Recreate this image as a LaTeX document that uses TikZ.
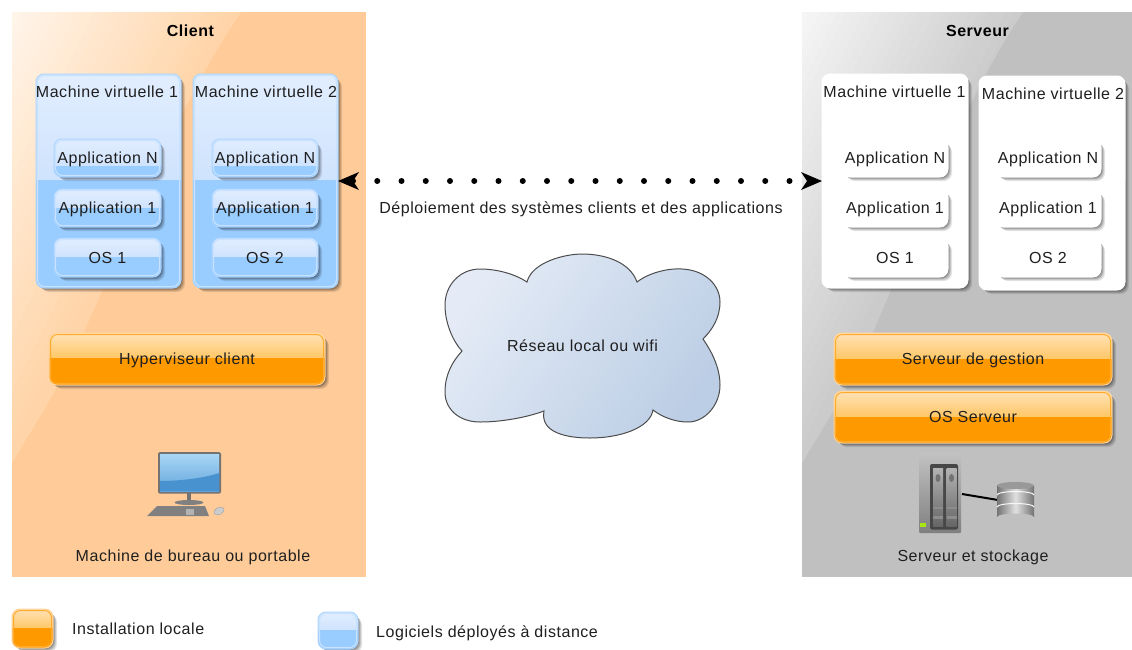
\documentclass[tikz,border=0pt]{standalone}
\usepackage{fontspec}
\setmainfont[LetterSpace=3.4]{Liberation Sans}
\usetikzlibrary{arrows.meta}
\definecolor{blueTopA}{HTML}{E2EEFF}\definecolor{blueTopB}{HTML}{CFE3FD}\definecolor{blueBot}{HTML}{99CCFF}\definecolor{blueEdge}{HTML}{C9E2FF}\definecolor{blueGlow}{HTML}{ABD5FF}
\definecolor{orTopA}{HTML}{FFE2B8}\definecolor{orTopB}{HTML}{FFC766}\definecolor{orBot}{HTML}{FF9900}\definecolor{orEdge}{HTML}{FFAB2E}\definecolor{orGlow}{HTML}{FFD49A}
\definecolor{whTopA}{HTML}{FFFFFF}\definecolor{whTopB}{HTML}{FFFFFF}\definecolor{whBot}{HTML}{FFFFFF}\definecolor{whEdge}{HTML}{FFFFFF}\definecolor{whGlow}{HTML}{FFFFFF}
\definecolor{panelClient}{HTML}{FFCC99}\definecolor{panelServer}{HTML}{C0C0C0}
\definecolor{clientHi}{HTML}{FFF6EC}\definecolor{clientLo}{HTML}{FFD4A8}
\definecolor{serverHi}{HTML}{F7F7F7}\definecolor{serverLo}{HTML}{CBCBCB}
\definecolor{cloudA}{RGB}{228,235,246}\definecolor{cloudB}{RGB}{188,206,229}
\definecolor{scrA}{RGB}{168,214,245}\definecolor{scrB}{RGB}{100,165,220}\definecolor{scrC}{RGB}{72,146,208}
\definecolor{ledG}{RGB}{170,230,20}
\tikzset{
  lab/.style={inner sep=0pt,font=\fontsize{16}{18}\selectfont,text=black!88,text height=14pt,text depth=3pt},
  labbold/.style={inner sep=0pt,font=\fontsize{16}{18}\selectfont\bfseries,text=black,text height=14pt,text depth=3pt},
  holder/.style={inner sep=0pt,outer sep=0pt,rectangle},
  dotline/.style={line width=6pt,line cap=round,dash pattern=on 0pt off 24.25pt,
    {Stealth[length=21pt,width=18pt,inset=6pt,line width=0pt]}-{Stealth[length=21pt,width=18pt,inset=6pt,line width=0pt]}},
}
% name, x1,y1,x2,y2, split, palette, label
\newcommand{\glassbox}[8]{%
  \foreach \s/\o in {5/.10,4/.12,3/.16,2/.18}{%
    \fill[black,opacity=\o,rounded corners=8pt] (#2+\s,#3+\s) rectangle (#4+\s-1,#5+\s-1);}
  \begin{scope}
    \clip[rounded corners=8pt] (#2,#3) rectangle (#4,#5);
    \shade[top color=#7TopA,bottom color=#7TopB] (#2,#3) rectangle (#4,#6);
    \fill[#7Bot] (#2,#6) rectangle (#4,#5);
  \end{scope}
  \draw[#7Edge,line width=1pt,rounded corners=7pt] (#2+1.5,#3+1.5) rectangle (#4-1.5,#5-1.5);
  \draw[#7Glow,line width=1pt,rounded corners=8pt] (#2,#3) rectangle (#4,#5);
  \pgfmathsetmacro{\bw}{#4-#2}\pgfmathsetmacro{\bh}{#5-#3}
  \node[holder,lab,minimum width=\bw pt,minimum height=\bh pt] (#1) at ({(#2+#4)/2},{(#3+#5)/2}) {#8};
}
\newcommand{\panelbox}[7]{% name x1 x2 base lo hi topx
  \fill[#4] (#2,12) rectangle (#3,577);
  \begin{scope}
    \clip (#2,12) -- (#7,12) .. controls (#7-80,130) and (#2+98,290) .. (#2+38,400) -- (#2,463) -- cycle;
    \fill[#5] (#2,12) rectangle (#7+5,463);
    \foreach \t in {100,96,...,0}{%
      \pgfmathsetmacro{\px}{#2+(#7-#2)/100*\t}\pgfmathsetmacro{\py}{12+4.51*\t}\pgfmathsetmacro{\mx}{100-\t}%
      \fill[#6!\mx!#5] (#2,12) -- (\px,12) -- (#2,\py) -- cycle;}
  \end{scope}
  \node[holder,minimum width=1pt,minimum height=1pt] (#1) at ({(#2+#3)/2},294) {};
}
\begin{document}
\begin{tikzpicture}[x=1pt,y=-1pt]
\useasboundingbox (0,0) rectangle (1132,649);
\fill[white] (0,0) rectangle (1132,649);
% panels
\panelbox{client}{12}{366}{panelClient}{clientLo}{clientHi}{241}
\panelbox{server}{802}{1132}{panelServer}{serverLo}{serverHi}{1023}
\node[labbold] (clientT) at (190.5,30.5) {Client};
\node[labbold] (serverT) at (977.5,30.5) {Serveur};
% client VMs
\glassbox{cvmA}{36}{74}{181}{288}{180}{blue}{}
\glassbox{cvmB}{193}{74}{338}{288}{180}{blue}{}
\node[lab] (cvmAt) at (107,91.5) {Machine virtuelle 1};
\node[lab] (cvmBt) at (266,91.5) {Machine virtuelle 2};
\glassbox{caN}{54}{139}{161}{177}{166}{blue}{Application N}
\glassbox{caO}{54}{189}{161}{227}{208}{blue}{Application 1}
\glassbox{caS}{54}{238}{161}{277}{257}{blue}{OS 1}
\glassbox{cbN}{212}{139}{318}{177}{166}{blue}{Application N}
\glassbox{cbO}{212}{189}{318}{227}{208}{blue}{Application 1}
\glassbox{cbS}{212}{238}{318}{277}{257}{blue}{OS 2}
\glassbox{hyp}{49}{333}{325}{385}{358}{or}{Hyperviseur client}
% server VMs
\glassbox{svmA}{822}{74}{968}{288}{180}{wh}{}
\glassbox{svmB}{979}{76}{1125}{290}{180}{wh}{}
\node[lab] (svmAt) at (894.5,91.5) {Machine virtuelle 1};
\node[lab] (svmBt) at (1053,94) {Machine virtuelle 2};
\glassbox{saN}{842}{139}{948}{177}{158}{wh}{Application N}
\glassbox{saO}{842}{189}{948}{227}{208}{wh}{Application 1}
\glassbox{saS}{842}{238}{948}{277}{257}{wh}{OS 1}
\glassbox{sbN}{995}{139}{1101}{177}{158}{wh}{Application N}
\glassbox{sbO}{995}{189}{1101}{227}{208}{wh}{Application 1}
\glassbox{sbS}{995}{238}{1101}{277}{257}{wh}{OS 2}
\glassbox{gest}{834}{333}{1112}{385}{359}{or}{Serveur de gestion}
\glassbox{osrv}{834}{391}{1112}{443}{417}{or}{OS Serveur}
% connector
\draw[dotline] (cvmB.east) -- (svmA.west);
\node[lab] (dep) at (581,208) {Déploiement des systèmes clients et des applications};
% cloud
\shade[draw=black!70,line width=1pt,top color=cloudA,bottom color=cloudB,shading angle=55]
  (527,282) .. controls (532,262) and (565,254) .. (582,254)
  .. controls (605,254) and (630,262) .. (637,282)
  .. controls (650,272) and (670,268) .. (682,269)
  .. controls (705,270) and (720,285) .. (720,302)
  .. controls (720,318) and (712,330) .. (703,339)
  .. controls (712,352) and (720,368) .. (720,385)
  .. controls (720,405) and (705,422) .. (688,422)
  .. controls (675,422) and (662,417) .. (653,410)
  .. controls (650,428) and (620,438) .. (590,438)
  .. controls (565,438) and (540,432) .. (544,411)
  .. controls (525,418) and (500,422) .. (480,422)
  .. controls (460,422) and (445,410) .. (445,392)
  .. controls (445,375) and (452,362) .. (462,351)
  .. controls (452,340) and (445,322) .. (445,305)
  .. controls (445,285) and (460,269) .. (480,269)
  .. controls (497,269) and (515,274) .. (527,282) -- cycle;
\node[lab] (cloudT) at (582.5,346) {Réseau local ou wifi};
% desktop icon
\fill[black!55,rounded corners=1.5pt] (158,452) rectangle (221,493.5);
\shade[top color=scrA,bottom color=scrB] (160,454) rectangle (219,491);
\fill[scrC] (160,491) -- (160,481) .. controls (180,481) and (205,478) .. (219,473) -- (219,491) -- cycle;
\fill[black!55] (187,493) rectangle (191,502);
\fill[black!50] (189,502.5) ellipse (14.5 and 2.5);
\fill[black!50] (147,516) -- (157,506) -- (205,506) -- (209,516) -- cycle;
\fill[black!30] (186,508.5) rectangle (194,515);
\fill[black!20,draw=black!35,line width=.5pt,rotate around={25:(219,511)}] (219,511) ellipse (5.5 and 3.5);
\node[lab] (cliCap) at (193,556) {Machine de bureau ou portable};
% server icon
\shade[rounded corners=1pt,top color=black!24,bottom color=black!50] (919,453) rectangle (961,533);
\fill[black!72,rounded corners=2pt] (930,464) rectangle (958,529.5);
\foreach \bx in {933,946.5}{
  \shade[top color=black!30,bottom color=black!60] (\bx,468) rectangle (\bx+10,526);
  \fill[black!55] (\bx+5,478) ellipse (2.5 and 4);
  \fill[black!45] (\bx,507) rectangle (\bx+10,509);
  \fill[black!45] (\bx,516) rectangle (\bx+10,519);
}
\fill[ledG] (920,522.5) rectangle (926,526.5);
\coordinate (nasE) at (962,494);
\coordinate (dbW) at (998,500);
\draw[black,line width=2pt] (nasE) -- (dbW);
\shade[left color=black!55,right color=black!55,middle color=black!12] (997,485) -- (997,517) arc[start angle=180,end angle=360,x radius=18.5,y radius=3.5] -- (1034,485) arc[start angle=0,end angle=180,x radius=18.5,y radius=3.5] -- cycle;
\draw[black!3,line width=1pt] (997,495) arc[start angle=180,end angle=360,x radius=18.5,y radius=3.5];
\draw[black!3,line width=1pt] (997,507) arc[start angle=180,end angle=360,x radius=18.5,y radius=3.5];
\fill[black!40] (1015.5,485.5) ellipse (18.5 and 3.5);
\node[lab] (srvCap) at (973,556) {Serveur et stockage};
% legend
\glassbox{lgO}{12}{609}{53}{648}{628}{or}{}
\glassbox{lgB}{318}{612}{358}{649}{630}{blue}{}
\node[lab,anchor=west] (lgOt) at (72,628.5) {Installation locale};
\node[lab,anchor=west] (lgBt) at (376,632) {Logiciels déployés à distance};
\end{tikzpicture}
\end{document}
